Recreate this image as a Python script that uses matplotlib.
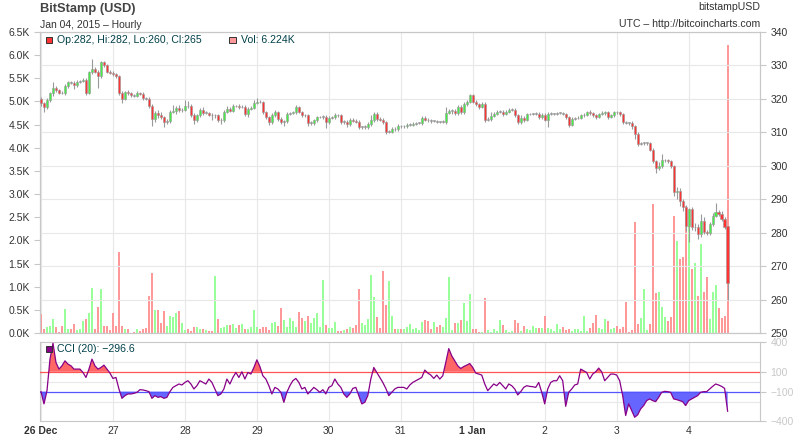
import numpy as np
import matplotlib
matplotlib.use("Agg")
import matplotlib.pyplot as plt
from matplotlib.patches import Rectangle

plt.rcParams["font.family"] = ["Liberation Sans", "DejaVu Sans"]

# hourly candles, 26 Dec 2014 00:00 UTC -> 4 Jan 2015 13:00 UTC
first_open = 319.8
closes = [
    # 26 Dec
    318.6, 317.6, 319.6, 321.6, 323.3, 322.5, 321.8, 321.6, 323.8, 324.9, 324.8, 324.0,
    325.1, 325.3, 325.6, 321.8, 327.9, 329.0, 328.1, 326.8, 330.9, 330.0, 328.1, 327.8,
    # 27
    327.3, 326.8, 321.8, 320.0, 322.0, 321.6, 321.0, 320.8, 321.8, 321.5, 320.1, 320.0,
    318.0, 314.0, 315.8, 315.2, 314.5, 313.1, 313.3, 316.1, 316.4, 317.4, 316.6, 316.8,
    # 28
    318.0, 317.8, 315.1, 313.6, 315.1, 316.8, 315.8, 315.8, 315.3, 315.1, 315.1, 313.6,
    313.8, 316.1, 317.1, 316.5, 317.8, 317.8, 317.5, 317.6, 315.4, 317.1, 317.4, 318.8,
    # 29
    319.1, 318.9, 316.1, 314.6, 313.1, 315.1, 316.1, 314.1, 313.1, 313.3, 315.6, 315.7,
    316.0, 317.6, 316.1, 315.1, 315.1, 312.8, 312.8, 313.6, 314.5, 314.6, 314.6, 313.1,
    # 30
    314.4, 314.6, 315.2, 315.1, 313.1, 313.1, 312.4, 313.8, 313.5, 313.2, 311.6, 311.6,
    311.6, 312.4, 313.6, 315.6, 314.1, 313.8, 313.1, 310.1, 310.2, 311.1, 310.9, 311.9,
    # 31
    311.8, 311.9, 312.3, 312.3, 312.6, 312.8, 312.8, 314.4, 313.8, 313.6, 313.4, 313.4,
    313.2, 313.1, 313.1, 315.8, 316.4, 316.4, 315.8, 317.6, 316.1, 318.4, 319.1, 321.0,
    # 1 Jan
    319.1, 318.3, 317.6, 318.4, 313.8, 313.9, 315.0, 315.6, 316.1, 316.2, 315.6, 316.1,
    316.8, 316.8, 315.1, 313.1, 314.4, 313.8, 315.4, 315.6, 315.6, 315.6, 314.6, 315.3,
    # 2
    313.8, 315.6, 315.6, 315.6, 315.8, 315.8, 315.6, 314.6, 312.3, 314.1, 314.2, 314.4,
    315.1, 315.1, 316.1, 315.8, 315.1, 314.6, 315.4, 315.8, 316.1, 314.6, 315.1, 316.1,
    # 3
    316.0, 315.4, 313.1, 312.9, 312.8, 311.8, 309.6, 306.6, 306.8, 306.8, 306.8, 304.8,
    301.3, 299.3, 299.8, 301.6, 301.6, 301.3, 299.8, 292.1, 292.5, 289.6, 287.8, 282.1,
    # 4
    287.0, 281.6, 281.8, 279.6, 283.6, 280.1, 279.8, 282.6, 285.1, 286.1, 285.6, 284.1,
    281.6, 265.0,
]
last_open = 282.0

wick_up = [
    0.8, 0.5, 0.6, 0.4, 1.6, 0.5, 0.4, 0.4, 0.6, 0.5, 0.4, 0.6, 0.4, 0.3, 0.5, 0.5, 0.5, 2.8, 0.4, 0.6, 0.3, 0.4, 0.5, 0.4,
    0.4, 0.3, 0.4, 0.6, 0.4, 0.5, 0.3, 0.4, 0.4, 0.3, 0.6, 0.4, 0.4, 0.5, 0.6, 1.0, 0.8, 0.5, 0.8, 0.5, 1.8, 0.5, 0.8, 0.6,
    1.5, 1.2, 0.5, 0.6, 0.5, 0.6, 0.8, 0.5, 0.4, 0.5, 0.5, 0.5, 0.6, 0.5, 0.8, 0.6, 0.5, 0.4, 0.6, 0.5, 0.5, 0.4, 0.5, 0.8,
    1.0, 0.5, 0.4, 0.4, 0.4, 0.6, 0.5, 0.4, 0.5, 0.3, 0.5, 0.4, 0.4, 0.6, 0.4, 0.3, 0.4, 0.5, 0.6, 0.4, 0.4, 0.3, 0.6, 0.5,
    0.5, 0.4, 0.6, 0.4, 0.5, 0.5, 0.5, 0.6, 0.5, 0.4, 0.5, 0.4, 0.5, 0.6, 1.5, 0.6, 0.4, 0.4, 0.5, 0.4, 0.4, 0.4, 0.5, 0.6,
    0.4, 0.3, 0.4, 0.4, 0.4, 0.4, 0.3, 0.5, 0.4, 0.4, 0.4, 0.4, 0.3, 0.3, 0.5, 1.8, 0.6, 0.5, 0.6, 0.6, 0.5, 0.6, 0.5, 0.4,
    0.4, 0.5, 0.5, 0.6, 0.5, 0.6, 1.2, 0.6, 0.5, 0.5, 0.6, 0.5, 0.4, 0.4, 0.4, 0.5, 0.8, 0.4, 0.4, 0.3, 0.3, 0.4, 0.5, 0.4,
    0.5, 0.4, 0.4, 0.3, 0.3, 0.3, 0.4, 0.3, 0.4, 0.5, 0.4, 0.4, 0.5, 0.6, 0.4, 0.5, 0.4, 0.4, 0.4, 0.5, 0.4, 0.4, 0.5, 0.4,
    0.4, 0.5, 0.4, 0.4, 0.3, 0.5, 0.5, 0.4, 0.4, 0.4, 0.3, 0.4, 0.5, 0.3, 1.2, 1.8, 0.5, 0.4, 0.4, 0.4, 1.2, 0.8, 0.6, 0.5,
    0.4, 0.6, 1.2, 0.8, 2.1, 1.0, 0.6, 0.6, 0.8, 2.8, 0.8, 0.8, 0.5, 0.0,
]
wick_dn = [
    0.6, 1.5, 0.5, 0.6, 0.8, 0.5, 0.5, 0.3, 0.6, 0.5, 0.3, 1.2, 0.5, 0.3, 0.3, 0.8, 0.5, 0.4, 0.4, 3.5, 0.6, 0.4, 0.5, 0.4,
    0.4, 0.6, 0.8, 1.2, 0.5, 0.4, 0.5, 0.4, 0.4, 0.4, 0.4, 0.4, 0.6, 2.1, 0.8, 0.8, 0.6, 1.6, 0.6, 0.6, 0.4, 0.8, 0.5, 0.5,
    0.4, 0.5, 0.6, 1.2, 0.5, 0.4, 0.6, 0.4, 0.5, 1.5, 0.8, 0.6, 1.2, 0.8, 0.4, 0.5, 0.4, 0.3, 0.4, 0.3, 0.6, 0.8, 0.4, 0.5,
    0.4, 0.3, 0.6, 0.6, 1.0, 0.5, 0.6, 0.6, 0.6, 1.2, 0.4, 0.3, 0.3, 0.5, 0.4, 0.5, 0.4, 0.8, 0.6, 0.5, 0.4, 0.3, 0.6, 1.8,
    0.5, 0.4, 0.5, 0.4, 0.5, 0.6, 0.8, 0.5, 0.4, 0.4, 0.6, 0.5, 0.6, 0.6, 0.5, 0.5, 0.8, 0.4, 0.5, 0.6, 0.4, 0.4, 0.5, 0.4,
    0.4, 0.4, 0.5, 0.4, 0.4, 0.3, 0.3, 0.5, 0.4, 0.5, 0.5, 0.4, 0.4, 0.4, 0.4, 0.5, 0.4, 0.8, 0.5, 0.6, 0.5, 0.5, 0.5, 0.4,
    0.4, 0.4, 0.5, 0.4, 0.6, 0.4, 0.4, 0.4, 0.5, 0.4, 0.6, 0.5, 0.4, 0.4, 0.5, 0.5, 0.5, 0.6, 0.4, 0.3, 0.3, 0.5, 0.5, 0.6,
    0.5, 2.2, 0.3, 0.3, 0.3, 0.3, 0.4, 0.5, 0.6, 0.5, 0.4, 0.3, 0.3, 0.5, 0.3, 0.5, 0.4, 0.6, 0.4, 0.3, 0.5, 0.6, 0.4, 0.4,
    0.4, 0.5, 0.5, 0.4, 0.6, 0.8, 1.5, 0.6, 0.5, 0.5, 0.6, 0.5, 0.6, 1.5, 0.5, 0.5, 0.6, 0.5, 0.5, 1.2, 2.0, 1.5, 1.2, 1.5,
    4.8, 0.8, 1.2, 1.5, 0.8, 0.6, 0.6, 0.5, 0.5, 0.5, 0.5, 0.5, 0.6, 5.0,
]

# volume in thousands of BTC
volume = [
    0.42, 0.09, 0.12, 0.15, 0.30, 0.13, 0.03, 0.15, 0.52, 0.09, 0.09, 0.20, 0.07, 0.09, 0.26, 0.30, 0.43, 0.98, 0.09, 0.57, 0.96, 0.15, 0.15, 0.07,
    0.43, 0.15, 1.74, 0.15, 0.09, 0.09, 0.01, 0.02, 0.09, 0.05, 0.09, 0.11, 0.80, 1.30, 0.50, 0.50, 0.22, 0.48, 0.15, 0.37, 0.35, 0.43, 0.48, 0.22,
    0.07, 0.09, 0.04, 0.13, 0.13, 0.09, 0.09, 0.07, 0.04, 0.04, 1.24, 0.30, 0.11, 0.13, 0.17, 0.17, 0.20, 0.11, 0.17, 0.20, 0.09, 0.09, 0.13, 0.50,
    0.13, 0.09, 0.13, 0.13, 0.07, 0.22, 0.24, 0.15, 0.54, 0.28, 0.13, 0.33, 0.26, 0.13, 0.46, 0.33, 0.26, 0.37, 0.22, 0.33, 0.43, 0.13, 1.15, 0.17,
    0.11, 0.11, 0.24, 0.04, 0.04, 0.07, 0.09, 0.13, 0.11, 0.17, 0.96, 0.22, 0.17, 0.30, 1.26, 0.78, 0.35, 0.11, 1.33, 0.61, 1.13, 0.37, 0.09, 0.08,
    0.08, 0.09, 0.13, 0.20, 0.09, 0.11, 0.07, 0.24, 0.28, 0.26, 0.09, 0.24, 0.13, 0.17, 0.13, 0.33, 1.20, 0.07, 0.22, 0.22, 0.28, 0.65, 0.26, 0.85,
    0.09, 0.09, 0.02, 0.02, 0.76, 0.07, 0.02, 0.09, 0.04, 0.28, 0.17, 0.07, 0.02, 0.04, 0.28, 0.22, 0.04, 0.15, 0.09, 0.07, 0.15, 0.11, 0.11, 0.11,
    0.37, 0.11, 0.09, 0.04, 0.20, 0.09, 0.13, 0.07, 0.09, 0.04, 0.09, 0.09, 0.04, 0.37, 0.04, 0.11, 0.22, 0.39, 0.11, 0.09, 0.30, 0.26, 0.09, 0.11,
    0.15, 0.09, 0.13, 0.67, 0.02, 0.07, 2.40, 0.20, 0.33, 0.96, 0.06, 0.20, 2.79, 0.87, 0.89, 0.57, 0.35, 0.25, 0.35, 2.53, 1.99, 1.60, 1.63, 2.75,
    2.30, 1.38, 1.52, 0.80, 1.92, 0.89, 1.20, 0.31, 0.89, 1.04, 0.55, 0.33, 0.37, 6.224,
]

cci = [
    -100, -223, -90, 227, 387, 193, 127, 160, 210, 177, 160, 127, 127, 127, 93, 43, 127, 227, 160, 127, 143, 167, 127, 87,
    33, 43, -73, -167, -140, -123, -123, -117, -107, -80, -83, -90, -100, -167, -140, -157, -150, -167, -157, -100, -57, -40, -23, -33,
    -7, 10, -23, -73, -40, 10, -7, -23, 27, -7, -73, -140, -123, -73, 27, -23, 43, 93, 43, 100, 27, 93, 77, 143,
    220, 153, 60, 27, -40, -123, -57, -73, -107, -207, -107, -40, 10, 33, -7, -73, -57, -123, -90, -57, -80, -107, -80, -123,
    -57, -40, 27, -23, -57, -123, -157, -123, -67, -57, -140, -223, -207, -140, 27, 143, 93, 43, -7, -67, -140, -107, -73, -57,
    -57, -57, -73, -33, -7, 10, 27, 43, 117, 87, 67, 33, 67, 27, 60, 193, 333, 260, 210, 160, 133, 153, 167, 183,
    143, 87, 77, 67, -23, -90, -57, -23, -40, -7, -40, -73, -23, -40, -73, -133, -100, -57, -40, -47, -50, -57, -7, -107,
    -223, -73, -7, 10, 10, 60, 10, -247, -107, -73, -33, -23, 127, 110, 93, 27, 77, 100, 137, 100, 10, 43, 77, 77,
    67, 10, -140, -340, -223, -290, -357, -333, -273, -240, -190, -173, -190, -200, -157, -107, -97, -100, -107, -173, -180, -190, -200, -240,
    -190, -173, -157, -140, -107, -100, -100, -73, -47, -23, -33, -47, -67, -296.6,
]

day_labels = ["26 Dec", "27", "28", "29", "30", "31", "1 Jan", "2", "3", "4"]
bold_days = ["26 Dec", "1 Jan"]

closes = np.array(closes)
opens = np.array([first_open] + list(closes[:-2]) + [last_open])
highs = np.maximum(opens, closes) + np.array(wick_up)
lows = np.minimum(opens, closes) - np.array(wick_dn)
volume = np.array(volume)
cci = np.array(cci, dtype=float)
hours = np.arange(len(closes))
up = closes >= opens

GRID = "#e8e8e8"
SPINE = "#c8c8c8"
TXT = "#333333"
LEG = "#004048"

fig = plt.figure(figsize=(8, 4.37), dpi=100)
ax_v = fig.add_axes([0.05, 0.238, 0.9, 0.689])
ax_p = ax_v.twinx()
ax_c = fig.add_axes([0.05, 0.0355, 0.9, 0.182])

xlim = (-0.33, 239.8)
day_pos = np.arange(len(day_labels)) * 24

# volume (left axis)
vcol = np.where(up, "#99ff99", "#ff9999")
ax_v.bar(hours, volume, width=0.7, color=vcol, linewidth=0, zorder=2)
ax_v.set_ylim(0, 6.5)
ax_v.set_yticks(np.arange(0, 6.51, 0.5))
ax_v.set_yticklabels([f"{v:.1f}K" for v in np.arange(0, 6.51, 0.5)])
ax_v.set_xlim(*xlim)
ax_v.set_xticks(day_pos)
ax_v.set_xticklabels([])
for d in day_pos:
    ax_v.axvline(d, color=GRID, lw=0.8, zorder=0)

# price candles (right axis)
ax_p.set_ylim(250, 340)
ax_p.set_yticks(np.arange(250, 341, 10))
ax_p.grid(axis="y", color=GRID, lw=0.8)
ax_p.set_axisbelow(True)
ax_p.vlines(hours, lows, highs, color="#999999", lw=0.8, zorder=2)
body_h = np.maximum(np.abs(closes - opens), 0.15)
bcol = np.where(np.abs(closes - opens) < 0.25, "#999999",
                np.where(up, "#44ee44", "#ff3333"))
ax_p.bar(hours, body_h, bottom=np.minimum(opens, closes), width=0.75,
         color=bcol, edgecolor="#999999", linewidth=0.4, zorder=3)
ax_p.set_xlim(*xlim)

for a in (ax_v, ax_p):
    for s in a.spines.values():
        s.set_color(SPINE)
    a.tick_params(axis="y", colors=SPINE, labelcolor=TXT, labelsize=7.5, length=4, width=0.8)
    a.tick_params(axis="x", length=0)

# legend boxes
ax_p.add_patch(Rectangle((0.008, 0.9625), 0.009, 0.022, transform=ax_p.transAxes,
                         facecolor="#ff3333", edgecolor="#333333", lw=0.7, zorder=5))
ax_p.text(0.0236, 0.973, f"Op:{last_open:.0f}, Hi:{highs[-1]:.0f}, Lo:{lows[-1]:.0f}, Cl:{closes[-1]:.0f}",
          transform=ax_p.transAxes, fontsize=7.6, color=LEG, va="center", zorder=5)
ax_p.add_patch(Rectangle((0.263, 0.9625), 0.009, 0.022, transform=ax_p.transAxes,
                         facecolor="#ff9999", edgecolor="#333333", lw=0.7, zorder=5))
ax_p.text(0.279, 0.973, f"Vol: {volume[-1]:.3f}K", transform=ax_p.transAxes,
          fontsize=7.6, color=LEG, va="center", zorder=5)

# CCI panel
ax_c.set_xlim(*xlim)
ax_c.set_ylim(-400, 400)
for d in day_pos:
    ax_c.axvline(d, color=GRID, lw=0.8, zorder=0)
for g in (-200, 0, 200):
    ax_c.axhline(g, color=GRID, lw=0.8, zorder=0)
ax_c.fill_between(hours, cci, 100, where=cci > 100, interpolate=True,
                  color="#ff6666", lw=0, zorder=2)
ax_c.fill_between(hours, cci, -100, where=cci < -100, interpolate=True,
                  color="#6666ff", lw=0, zorder=2)
ax_c.axhline(100, color="#ff5555", lw=0.9, zorder=3)
ax_c.axhline(-100, color="#5555ff", lw=0.9, zorder=3)
ax_c.plot(hours, cci, color="#880088", lw=0.9, zorder=4)
ax_c.yaxis.tick_right()
ax_c.set_yticks([-400, -100, 100, 400])
ax_c.set_yticklabels(["\u2212400", "\u2212100", "100", "400"])
for lab, c in zip(ax_c.get_yticklabels(), [TXT, "#4444ff", "#ff4444", TXT]):
    lab.set_color(c)
ax_c.set_xticks(day_pos)
ax_c.set_xticklabels(day_labels)
for lab in ax_c.get_xticklabels():
    if lab.get_text() in bold_days:
        lab.set_fontweight("bold")
for s in ax_c.spines.values():
    s.set_color(SPINE)
ax_c.tick_params(axis="y", colors=SPINE, labelsize=7.5, length=4, width=0.8)
ax_c.tick_params(axis="x", length=0, labelsize=7.5, labelcolor=TXT, pad=3)

ax_c.add_patch(Rectangle((0.008, 0.878), 0.009, 0.072, transform=ax_c.transAxes,
                         facecolor="#880088", edgecolor="#333333", lw=0.7, zorder=5))
ax_c.text(0.0236, 0.912, f"CCI (20): \u2212{abs(cci[-1]):.1f}", transform=ax_c.transAxes,
          fontsize=7.6, color=LEG, va="center", zorder=5)

# header texts
fig.text(0.05, 0.9805, "BitStamp (USD)", fontsize=9.3, fontweight="bold", color="#444444", va="center")
fig.text(0.05, 0.9428, "Jan 04, 2015 \u2013 Hourly", fontsize=7.5, color=TXT, va="center")
fig.text(0.95, 0.985, "bitstampUSD", fontsize=7.6, color=TXT, va="center", ha="right")
fig.text(0.95, 0.946, "UTC \u2013 http://bitcoincharts.com", fontsize=7.6, color=TXT, va="center", ha="right")

fig.savefig("out.png", dpi=100)
